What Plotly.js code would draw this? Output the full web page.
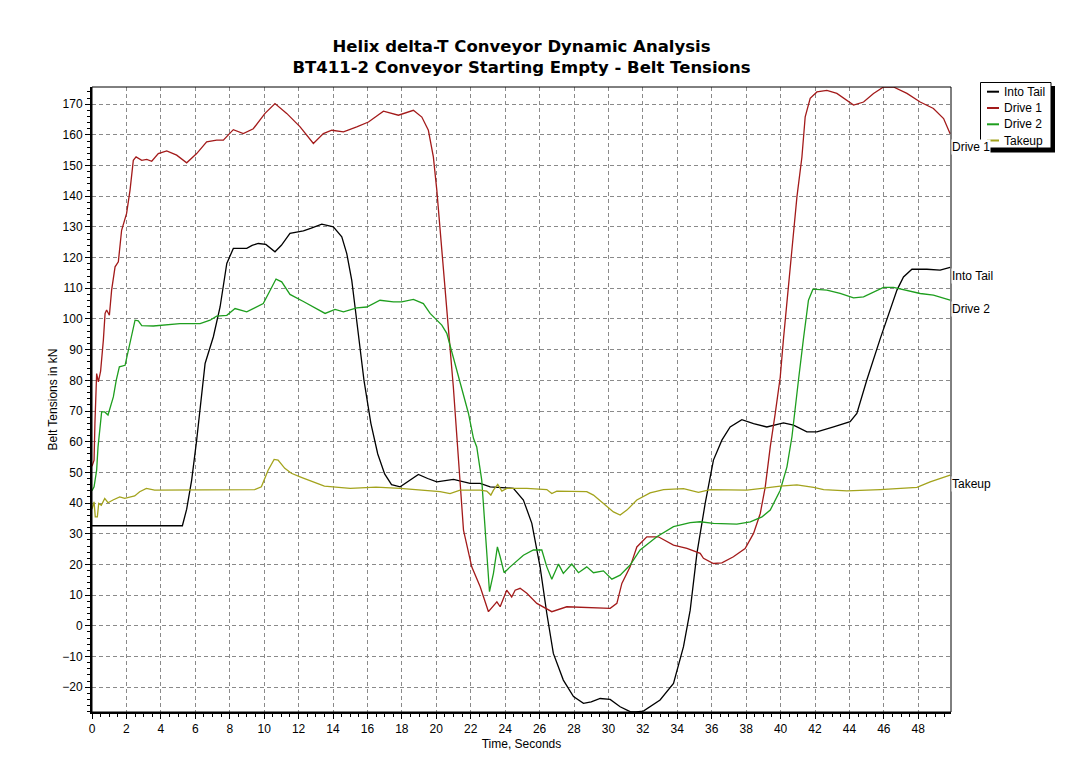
<!DOCTYPE html>
<html>
<head>
<meta charset="utf-8">
<script src="https://cdn.plot.ly/plotly-3.0.1.min.js"></script>
<style>html,body{margin:0;padding:0;background:#fff;}#chart{width:1079px;height:781px;}</style>
</head>
<body>
<div id="chart"></div>
<script>
// ---- Data ----
const seriesNames = ["Into Tail", "Drive 1", "Drive 2", "Takeup"];

const intoTailX = [0,5.25,5.5,5.68,5.79,6.08,6.3,6.57,7.05,7.44,7.83,8.21,8.99,9.3,9.66,10.1,10.63,11.0,11.5,12.28,12.7,13.35,14.02,14.51,14.8,15.09,15.28,15.53,15.8,16.2,16.6,17.0,17.4,17.9,18.5,18.96,19.5,20.03,21.0,21.96,22.55,23.13,24.48,25.06,25.55,26.03,26.42,26.8,27.38,27.97,28.55,29.0,29.52,30.1,30.68,31.26,31.6,32.03,33.0,33.78,34.36,34.75,35.14,35.62,36.1,36.59,37.07,37.75,38.43,39.2,40.17,40.75,41.53,42.11,43.08,44.04,44.43,45.01,45.79,46.27,46.76,47.14,47.63,48.5,49.27,49.85];
const intoTailY = [32.6,32.6,38,44.2,47.5,60.5,72,85.5,94.2,103.9,118.1,123,123,124,124.6,124.3,121.9,124,127.9,128.7,129.5,130.9,130,126.8,121.3,112.6,103.9,93.1,80,66,56,49.5,46,45.3,47.5,49.3,48,46.9,47.7,46.4,46.4,45.3,44.8,41,33.4,19.2,4,-9,-17.7,-23.1,-25.3,-24.8,-23.7,-24,-26.4,-28,-28.1,-27.8,-24.2,-18.8,-6.8,5.1,23.6,39.9,54,60.5,64.8,67.2,65.9,64.8,66.1,65.4,63.2,63.2,64.8,66.5,69.2,80.1,93.6,101.8,109.4,113.7,116.2,116.2,115.9,116.8];

const drive1X = [0,0.12,0.17,0.27,0.37,0.5,0.66,0.76,0.85,1.01,1.14,1.34,1.53,1.72,2.01,2.21,2.4,2.56,2.89,3.18,3.47,3.85,4.34,4.92,5.5,6.08,6.66,7.24,7.63,8.21,8.79,9.37,10.05,10.63,11.31,12.09,12.86,13.44,13.93,14.61,15.38,16.06,16.93,17.8,18.67,19.16,19.54,19.83,20.03,20.22,20.41,20.61,20.76,20.99,21.19,21.29,21.58,22.06,22.55,23.03,23.52,23.71,24.09,24.38,24.58,24.87,25.26,25.84,26.71,27.58,28.74,30.1,30.49,30.78,31.26,31.65,32.23,32.9,33.78,34.56,35.33,35.52,36.1,36.59,37.26,37.94,38.43,38.82,39.11,39.4,39.69,39.98,40.17,40.56,40.95,41.24,41.43,41.72,42.11,42.69,43.27,44.24,44.82,45.4,45.98,46.56,47.34,48.11,48.88,49.47,49.85];
const drive1Y = [52,54,66,82.2,79.5,83,93.1,101.8,102.9,101.2,109.4,117,118.6,128.9,134.4,142,151.7,152.8,151.7,152,151.4,153.9,154.8,153.4,150.9,153.9,157.7,158.3,158.3,161.7,160.4,162,167,170.2,167,162.6,157.2,160.4,161.5,161,162.6,164.2,167.7,166.4,168,165.8,161.5,152.8,142,128.9,114.8,101.8,93.1,77.9,61.6,52.9,31.2,19.2,12.7,4.6,7.8,6.2,11.6,9.4,11.6,12.2,10.6,7.3,4.6,6.2,5.9,5.7,7.3,13.8,19.2,25.7,29,29,26.3,25.2,23.6,22,20.3,20.5,22.5,25.2,30.1,36.6,45.3,58.3,69.2,81,93.6,117,139.8,152.8,165.9,171.9,174,174.5,173.5,169.7,170.7,173.5,175.6,175.6,173.5,170.7,168.6,165.3,160.4];

const drive2X = [0,0.12,0.27,0.35,0.56,0.74,0.93,1.24,1.41,1.59,1.92,2.21,2.5,2.69,2.89,3.56,4.34,5.11,6.28,6.86,7.24,7.83,8.31,8.99,9.95,10.34,10.69,11.02,11.5,12.28,12.86,13.54,14.12,14.61,15.38,15.96,16.73,17.51,17.99,18.67,19.25,19.64,19.93,20.32,20.61,21.09,21.48,21.87,22.16,22.35,22.64,22.84,22.97,23.09,23.32,23.55,23.71,23.94,24.29,25.06,25.64,26.13,26.42,26.71,27.1,27.38,27.87,28.26,28.74,29.13,29.71,30.2,30.68,31.26,31.84,32.81,33.78,34.75,35.33,36.1,37.46,38.24,38.92,39.4,39.98,40.37,40.66,40.85,41.04,41.33,41.62,41.88,42.69,43.46,44.24,44.82,45.4,45.98,46.56,47.34,48.11,48.88,49.85];
const drive2Y = [44,45.3,50.7,58.3,69.7,69.7,68.7,74.6,80.1,84.4,84.9,92,99.6,99.4,97.8,97.7,98.2,98.5,98.5,99.6,100.9,101.2,103.4,102.3,105,109.4,113,112.1,108,105.7,103.9,101.8,103.1,102.3,103.6,103.9,106.1,105.6,105.6,106.4,105,101.8,100.2,98,95.3,85.5,77.9,69.2,61.1,58.3,47.5,31.2,19.2,11.1,17.1,25.7,22.5,17.3,19.2,23,24.7,24.7,19.2,15.2,20.1,17.1,20.1,17.3,19.2,17.3,17.9,15.2,16.5,19.8,24.7,29,32.3,33.6,33.9,33.4,33.1,33.9,35.5,37.7,44.2,51.8,61.6,71.4,80.1,93.6,106.1,109.7,109.4,108.3,106.9,107.2,108.8,110.3,110.3,109.4,108.3,107.8,106.1];

const takeupX = [0,0.12,0.19,0.31,0.39,0.54,0.74,0.93,1.22,1.61,1.9,2.19,2.48,2.77,3.16,3.64,5.58,9.45,9.84,10.23,10.58,10.81,11.2,11.58,12.16,12.55,13.5,15,16.5,17.9,19.06,20.22,20.8,21.38,22.55,22.93,23.17,23.32,23.57,23.81,24.09,25.26,26.42,26.71,27.0,27.58,28.74,29.13,29.71,30.29,30.68,31.07,31.65,32.42,33.2,34.36,35.23,35.91,38.04,39.98,40.95,41.53,41.92,42.5,43.85,45.79,47.92,48.69,49.47,49.85];
const takeupY = [38,40.4,35.5,35.5,39.9,39.3,41.5,40.1,41,42,41.5,42,42.3,43.7,44.8,44.2,44.2,44.4,45.3,50.7,54.2,54,51.3,49.7,48.4,47.5,45.5,44.8,45.2,44.8,44.2,43.7,43.1,44.2,44.2,43.9,42.6,44.2,46.1,43.9,44.8,44.8,44.4,43.1,43.9,43.9,43.7,42.6,39.9,37.1,36.1,37.7,41,43.3,44.4,44.7,43.5,44.4,44.2,45.5,45.9,45.5,45.1,44.4,44,44.4,45.1,46.9,48.5,49.1];

const xTickStep = 2;
const yTickStep = 10;
const xRange = [0, 49.9];
const yRange = [-28.1, 175.6];

// ---- Styling ----
const colors = ["#000000", "#a31a1a", "#1e9e1e", "#a3a31c"];
const FONT = "Arial, 'Liberation Sans', sans-serif";
const TITLE_FONT = "'DejaVu Sans', Verdana, sans-serif";
const W = 1079, H = 781;
const M = {l: 92, r: 128, t: 87, b: 69};
const fx = px => (px - M.l) / (W - M.l - M.r);
const fy = py => (H - M.b - py) / (H - M.t - M.b);

const xs = [intoTailX, drive1X, drive2X, takeupX];
const ys = [intoTailY, drive1Y, drive2Y, takeupY];

const traces = seriesNames.map((n, i) => ({
  type: "scatter", mode: "lines", name: n,
  x: xs[i], y: ys[i],
  line: {color: colors[i], width: 1.3},
  showlegend: false, hoverinfo: "x+y+name"
}));

// end-of-line labels
const labelShift = [-1, -5, -1, -1];
const annotations = seriesNames.map((n, i) => ({
  xref: "paper", x: 1, yref: "y", y: ys[i][ys[i].length - 1],
  xanchor: "left", yanchor: "top", xshift: 0, yshift: labelShift[i],
  text: n, showarrow: false, bgcolor: "#ffffff", borderpad: 0,
  font: {family: FONT, size: 12, color: "#000"}
}));

// custom legend (box + shadow + keys + names)
const shapes = [];
shapes.push({type: "rect", xref: "paper", yref: "paper", x0: fx(985), x1: fx(1055), y0: fy(152.5), y1: fy(86),
  fillcolor: "#000", line: {width: 0}, layer: "above"});
shapes.push({type: "rect", xref: "paper", yref: "paper", x0: fx(980.5), x1: fx(1051), y0: fy(148), y1: fy(82.5),
  fillcolor: "#fff", line: {color: "#000", width: 1}, layer: "above"});
const legY = [91.7, 108, 124.3, 140.5];
seriesNames.forEach((n, i) => {
  shapes.push({type: "line", xref: "paper", yref: "paper", x0: fx(987), x1: fx(999), y0: fy(legY[i]), y1: fy(legY[i]),
    line: {color: colors[i], width: 2}, layer: "above"});
  annotations.unshift({xref: "paper", yref: "paper", x: fx(1002), y: fy(legY[i]), xanchor: "left", yanchor: "middle",
    text: n, showarrow: false, font: {family: FONT, size: 12, color: "#000"}});
});
// plot border (thin top/right)
shapes.push({type: "rect", xref: "paper", yref: "paper", x0: 0, x1: 1, y0: 0, y1: 1,
  line: {color: "#000", width: 1}, layer: "above"});

const gridStyle = {showgrid: true, gridcolor: "#8a8a8a", gridwidth: 1, griddash: "4px,3px"};

const layout = {
  width: W, height: H,
  margin: {l: M.l, r: M.r, t: M.t, b: M.b, autoexpand: false},
  paper_bgcolor: "#ffffff", plot_bgcolor: "#ffffff",
  font: {family: FONT, size: 12, color: "#000"},
  title: {
    text: "<b>Helix delta-T Conveyor Dynamic Analysis</b><br><b>BT411-2 Conveyor Starting Empty - Belt Tensions</b>",
    font: {family: TITLE_FONT, size: 16.5, color: "#000"},
    x: 0.5, xref: "paper", xanchor: "center", y: 1 - 52 / H, yref: "container", yanchor: "middle"
  },
  xaxis: Object.assign({
    range: xRange, tick0: 0, dtick: xTickStep, ticks: "outside", ticklen: 5, tickwidth: 1, tickcolor: "#000",
    showline: true, linecolor: "#000", linewidth: 2, zeroline: false,
    minor: {dtick: 0.5, ticks: "outside", ticklen: 3, tickcolor: "#000", showgrid: false},
    tickfont: {family: FONT, size: 12, color: "#000"},
    title: {text: "Time, Seconds", font: {family: FONT, size: 12, color: "#000"}, standoff: 4}
  }, gridStyle),
  yaxis: Object.assign({
    range: yRange, tick0: 0, dtick: yTickStep, ticks: "outside", ticklen: 5, tickwidth: 1, tickcolor: "#000",
    showline: true, linecolor: "#000", linewidth: 2, zeroline: false,
    minor: {dtick: 2, ticks: "outside", ticklen: 3, tickcolor: "#000", showgrid: false},
    tickfont: {family: FONT, size: 12, color: "#000"},
    title: {text: "Belt Tensions in kN", font: {family: FONT, size: 12, color: "#000"}, standoff: 2}
  }, gridStyle),
  shapes: shapes,
  annotations: annotations,
  showlegend: false
};

Plotly.newPlot("chart", traces, layout, {displayModeBar: false, staticPlot: true});
</script>
</body>
</html>
